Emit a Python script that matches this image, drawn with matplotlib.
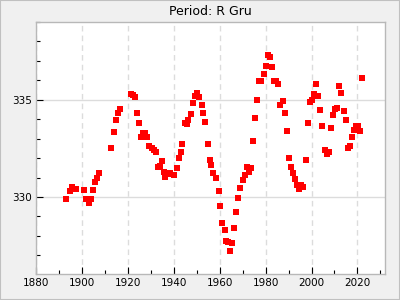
import matplotlib
matplotlib.use("Agg")
import matplotlib.pyplot as plt
from matplotlib.ticker import MultipleLocator
from matplotlib.patches import Rectangle

# R Gru pulsation period (days) by year
years = [1893.0, 1894.8, 1895.6, 1897.4, 1900.8, 1901.7, 1903.0, 1903.9, 1904.8, 1905.6,
         1906.5, 1907.4, 1912.6, 1913.9, 1914.7, 1915.6, 1916.5, 1921.3, 1922.1, 1923.0,
         1923.9, 1924.7, 1925.6, 1926.5, 1927.3, 1928.2, 1929.1, 1930.4, 1931.2, 1932.1,
         1933.0, 1933.8, 1934.7, 1935.6, 1936.4, 1937.3, 1938.2, 1939.9, 1941.2, 1942.1,
         1943.0, 1943.8, 1944.7, 1945.6, 1946.4, 1947.3, 1948.2, 1949.3, 1950.3, 1951.2,
         1952.1, 1952.9, 1953.8, 1954.7, 1955.6, 1956.4, 1957.3, 1958.6, 1959.5, 1960.3,
         1961.2, 1962.1, 1962.9, 1963.8, 1964.7, 1965.5, 1966.4, 1967.3, 1968.1, 1969.0,
         1970.3, 1971.2, 1972.1, 1972.9, 1973.8, 1974.7, 1975.5, 1976.4, 1977.3, 1978.1,
         1979.4, 1980.3, 1981.2, 1982.0, 1982.9, 1983.8, 1984.6, 1985.5, 1986.4, 1987.7,
         1988.5, 1989.4, 1990.3, 1991.2, 1992.0, 1992.9, 1993.8, 1994.6, 1995.5, 1996.4,
         1997.7, 1998.5, 1999.4, 2000.3, 2001.1, 2002.0, 2002.9, 2003.8, 2004.6, 2005.9,
         2006.8, 2007.7, 2008.5, 2009.4, 2010.3, 2011.1, 2012.0, 2012.9, 2014.2, 2015.0,
         2015.9, 2016.8, 2017.6, 2018.5, 2019.4, 2020.3, 2021.1, 2022.0]
period = [329.89, 330.30, 330.51, 330.40, 330.35, 329.89, 329.69, 329.89, 330.35, 330.76,
          330.97, 331.22, 332.50, 333.32, 333.94, 334.34, 334.50, 335.32, 335.23, 335.16,
          334.34, 333.83, 333.07, 333.27, 333.27, 333.07, 332.60, 332.50, 332.40, 332.30,
          331.53, 331.58, 331.84, 331.27, 331.02, 331.17, 331.22, 331.12, 331.48, 331.99,
          332.30, 332.71, 333.78, 333.73, 333.94, 334.29, 334.81, 335.21, 335.33, 335.16,
          334.75, 334.34, 333.88, 332.71, 331.89, 331.63, 331.22, 330.97, 330.30, 329.53,
          328.66, 328.30, 327.74, 327.69, 327.23, 327.64, 328.41, 329.23, 329.94, 330.46,
          330.86, 331.12, 331.53, 331.27, 331.48, 332.86, 334.04, 335.01, 335.98, 335.98,
          336.34, 336.75, 337.31, 337.21, 336.70, 335.98, 335.98, 335.83, 334.75, 334.96,
          334.34, 333.37, 331.99, 331.53, 331.22, 330.92, 330.61, 330.40, 330.61, 330.51,
          331.89, 333.78, 334.86, 335.01, 335.32, 335.83, 335.21, 334.45, 333.63, 332.40,
          332.20, 332.30, 333.53, 334.24, 334.50, 334.55, 335.73, 335.37, 334.40, 333.94,
          332.50, 332.60, 333.07, 333.47, 333.63, 333.63, 333.37, 336.14]

fig = plt.figure(figsize=(4, 3), dpi=100, facecolor='#f0f0f0')
fig.patches.append(Rectangle((0, 0), 1, 1, transform=fig.transFigure, fill=False,
                             edgecolor='#c0c0c0', linewidth=1.5))
ax = fig.add_axes([0.09, 0.087, 0.8725, 0.84])
ax.set_facecolor('white')

ax.plot(years, period, 's', color='#ff0000', markersize=5, markeredgewidth=0)

ax.set_xlim(1880, 2032)
ax.set_ylim(326.05, 339.0)
ax.xaxis.set_major_locator(MultipleLocator(20))
ax.xaxis.set_minor_locator(MultipleLocator(10))
ax.yaxis.set_major_locator(MultipleLocator(5))
ax.yaxis.set_minor_locator(MultipleLocator(1))

ax.grid(axis='x', which='major', color='#dcdcdc', linestyle=(0, (4, 3)), linewidth=1)
ax.grid(axis='y', which='major', color='#dcdcdc', linestyle='-', linewidth=1)
ax.set_axisbelow(True)

ax.tick_params(which='both', direction='in', colors='black', labelsize=7.5,
               top=False, right=False)
ax.tick_params(which='major', length=5, width=0.8, pad=3)
ax.tick_params(which='minor', length=3, width=0.8)
for s in ax.spines.values():
    s.set_color('#b8b8b8')
    s.set_linewidth(1)

ax.set_title('Period: R Gru', fontsize=9, pad=5)

fig.savefig('out.png', dpi=100, facecolor=fig.get_facecolor())
